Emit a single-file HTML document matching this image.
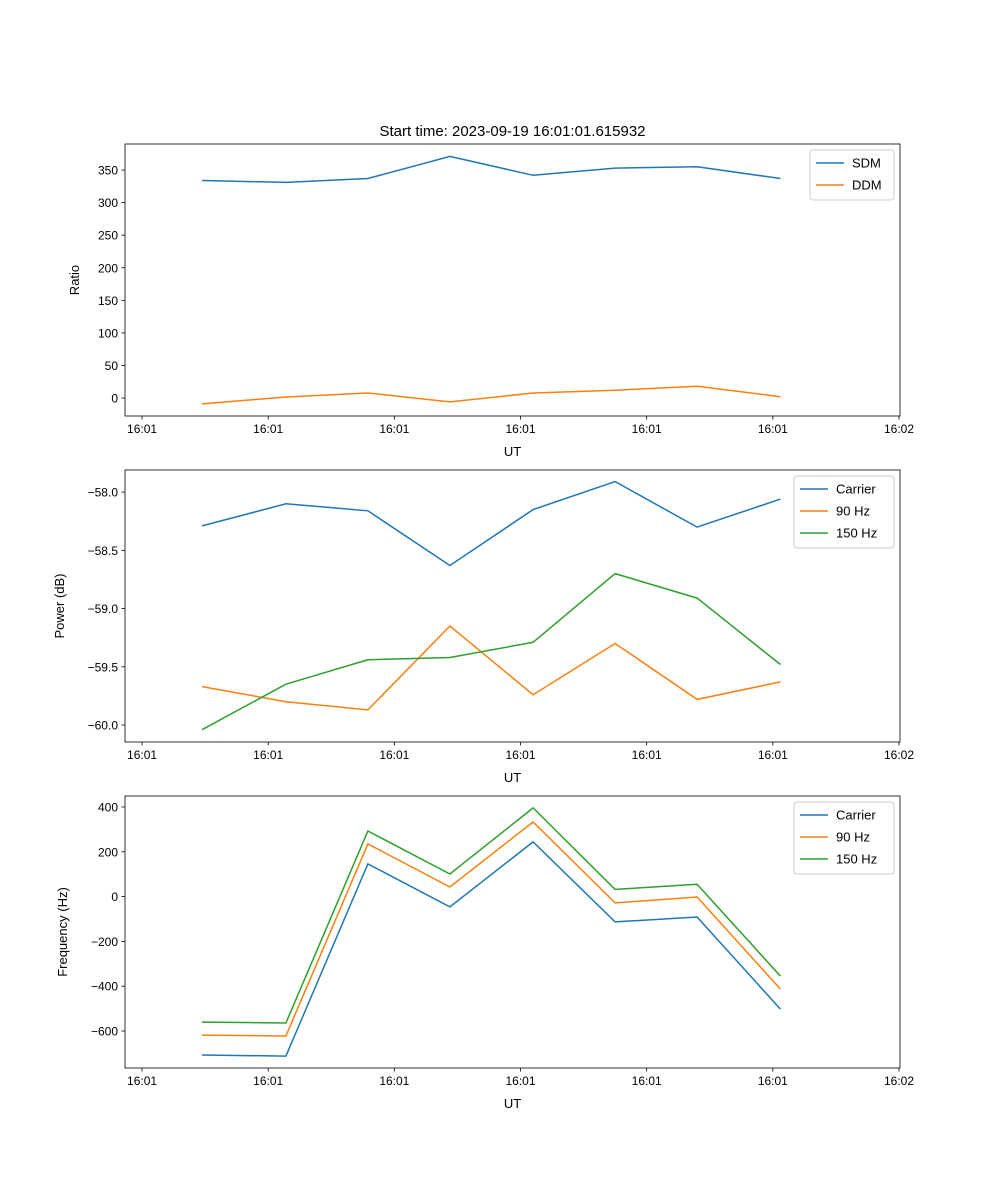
<!DOCTYPE html>
<html><head><meta charset="utf-8"><style>
body{margin:0;background:#fff}
svg{display:block;font-family:"Liberation Sans","DejaVu Sans",sans-serif}
</style></head><body>
<svg id="fig" width="1000" height="1200"></svg>
<script>
const times=[4.75,11.4,17.9,24.4,31.0,37.5,44.0,50.6];
const xTickVals=[0,10,20,30,40,50,60];
const xTickLabels=["16:01","16:01","16:01","16:01","16:01","16:01","16:02"];
const sdm=[334,331,337,371,342,353,355,337];
const ddm=[-9,1.5,7.7,-6,7.7,12,18,2];
const pCarrier=[-58.29,-58.10,-58.16,-58.63,-58.15,-57.91,-58.30,-58.06];
const p90=[-59.67,-59.80,-59.87,-59.15,-59.74,-59.30,-59.78,-59.63];
const p150=[-60.04,-59.65,-59.44,-59.42,-59.29,-58.70,-58.91,-59.48];
const fCarrier=[-707,-712,146,-46,244,-113,-91,-502];
const f90=[-618,-622,235,43,333,-28,-2,-413];
const f150=[-560,-564,293,101,396,32,55,-355];
const ticks1=[0,50,100,150,200,250,300,350];
const ticks2=[-60.0,-59.5,-59.0,-58.5,-58.0];
const ticks3=[-600,-400,-200,0,200,400];

const NS="http://www.w3.org/2000/svg";
const svg=document.getElementById('fig');
function mk(tag,attrs,parent){const e=document.createElementNS(NS,tag);for(const k in attrs)e.setAttribute(k,attrs[k]);(parent||svg).appendChild(e);return e;}
const L=125,R=900,xmin=-1.35,xmax=60.08;
const xs=t=>L+(t-xmin)/(xmax-xmin)*(R-L);
const colors=["#1f77b4","#ff7f0e","#2ca02c"];

function panel(name,top,bot,ymin,ymax,yticks,fmt,ylabel,series,names,legW){
  const g=mk('g',{});
  
  
  const ys=v=>bot-(v-ymin)/(ymax-ymin)*(bot-top);
  series.forEach((s,i)=>{
    const pts=s.map((v,j)=>xs(times[j]).toFixed(1)+','+ys(v).toFixed(1)).join(' ');
    const pl=mk('polyline',{points:pts,fill:'none',stroke:colors[i],'stroke-width':1.5},g);
    
    
  });
  const fr=mk('rect',{x:L,y:top,width:R-L,height:bot-top,fill:'none',stroke:'#000','stroke-width':0.8},g);
  
  
  xTickVals.forEach((t,i)=>{
    const x=xs(t);
    mk('line',{x1:x,x2:x,y1:bot,y2:bot+3.5,stroke:'#000','stroke-width':0.8},g);
    const tx=mk('text',{x:x,y:bot+17,'font-size':12,'text-anchor':'middle'},g);
    tx.textContent=xTickLabels[i];
    
    
  });
  yticks.forEach(v=>{
    const y=ys(v);
    mk('line',{x1:L-3.5,x2:L,y1:y,y2:y,stroke:'#000','stroke-width':0.8},g);
    const tx=mk('text',{x:L-7,y:y+4.5,'font-size':12,'text-anchor':'end'},g);
    tx.textContent=fmt(v);
    
    
  });
  const xl=mk('text',{x:(L+R)/2,y:bot+40,'font-size':13,'text-anchor':'middle'},g);
  xl.textContent='UT';
  
  
  const yc=(top+bot)/2, ylx=ylabel==='Ratio'?79:ylabel==='Power (dB)'?64:67;
  const yl=mk('text',{x:ylx,y:yc,'font-size':13,'text-anchor':'middle',transform:`rotate(-90 ${ylx} ${yc})`},g);
  yl.textContent=ylabel;
  
  
  const lh=22*names.length+6, lx=R-6-legW, ly=top+6;
  const lg=mk('g',{},g);
  
  
  mk('rect',{x:lx,y:ly,width:legW,height:lh,rx:3,fill:'#fff','fill-opacity':0.8,stroke:'#ccc'},lg);
  names.forEach((n,i)=>{
    const yy=ly+13+i*22;
    mk('line',{x1:lx+6,x2:lx+34,y1:yy,y2:yy,stroke:colors[i],'stroke-width':1.5},lg);
    const t=mk('text',{x:lx+42,y:yy+4.5,'font-size':13},lg);
    t.textContent=n;
    
    
  });
}
const title=mk('text',{x:(L+R)/2,y:136,'font-size':15,'text-anchor':'middle'});
title.textContent='Start time: 2023-09-19 16:01:01.615932';


panel('ratio-panel',144,416,-27.6,390,ticks1,v=>String(v),'Ratio',[sdm,ddm],['SDM','DDM'],84);
panel('power-panel',470,742,-60.146,-57.81,ticks2,v=>'\u2212'+Math.abs(v).toFixed(1),'Power (dB)',[pCarrier,p90,p150],['Carrier','90 Hz','150 Hz'],100);
panel('frequency-panel',796,1068,-765,449,ticks3,v=>v<0?'\u2212'+Math.abs(v):String(v),'Frequency (Hz)',[fCarrier,f90,f150],['Carrier','90 Hz','150 Hz'],100);
</script>
</body></html>
